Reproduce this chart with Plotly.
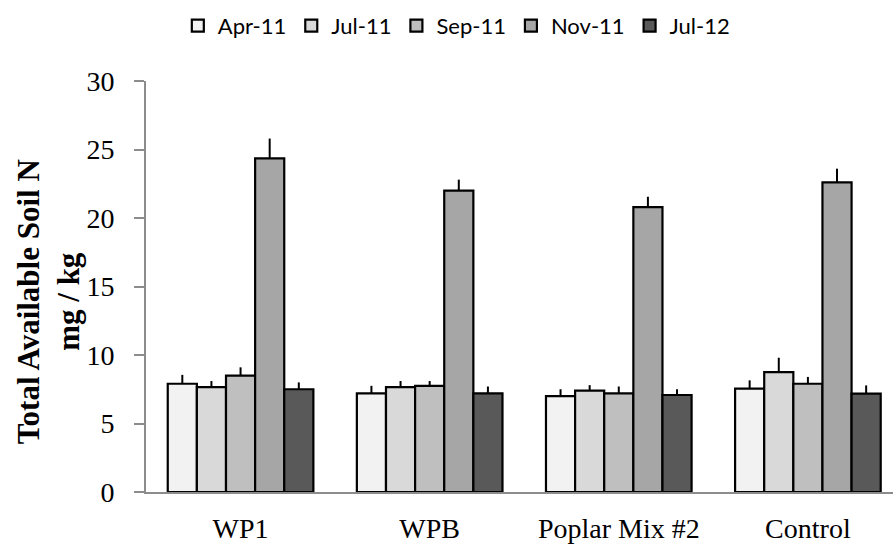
import plotly.graph_objects as go

categories = ["WP1", "WPB", "Poplar Mix #2", "Control"]
series_names = ["Apr-11", "Jul-11", "Sep-11", "Nov-11", "Jul-12"]

apr11 = [7.9, 7.2, 7.0, 7.55]
jul11 = [7.65, 7.65, 7.4, 8.75]
sep11 = [8.5, 7.75, 7.2, 7.9]
nov11 = [24.35, 22.0, 20.8, 22.6]
jul12 = [7.5, 7.2, 7.08, 7.18]

apr11_err = [0.65, 0.55, 0.5, 0.6]
jul11_err = [0.45, 0.45, 0.4, 1.05]
sep11_err = [0.6, 0.35, 0.5, 0.5]
nov11_err = [1.45, 0.8, 0.75, 1.0]
jul12_err = [0.5, 0.5, 0.42, 0.6]

values = [apr11, jul11, sep11, nov11, jul12]
errors = [apr11_err, jul11_err, sep11_err, nov11_err, jul12_err]
colors = ["#F2F2F2", "#D9D9D9", "#BFBFBF", "#A6A6A6", "#595959"]

y_ticks = [0, 5, 10, 15, 20, 25, 30]

fig = go.Figure()
for name, vals, errs, col in zip(series_names, values, errors, colors):
    fig.add_trace(go.Bar(
        name=name, x=categories, y=vals,
        marker=dict(color=col, line=dict(color="black", width=2.2)),
        error_y=dict(type="data", array=errs, arrayminus=[0] * len(errs),
                     symmetric=False, color="black", thickness=2, width=0),
    ))

fig.update_layout(
    width=893, height=548,
    margin=dict(l=146, r=0, t=81, b=56, autoexpand=False),
    paper_bgcolor="white", plot_bgcolor="white",
    barmode="group", bargap=0.23, bargroupgap=0,
    showlegend=True,
    legend=dict(orientation="h", xref="container", yref="container",
                x=0.511, y=0.953, xanchor="center", yanchor="middle",
                font=dict(family="Lato", size=22, color="black"),
                itemwidth=30, tracegroupgap=0),
    xaxis=dict(range=[-0.5, 3.45], showline=True, linecolor="#8C8C8C", linewidth=2,
               showgrid=False, ticks="", ticklabelstandoff=10,
               tickfont=dict(family="Liberation Serif", size=28, color="black"),
               automargin=False),
    yaxis=dict(range=[0, 30], tickvals=y_ticks, showline=True, linecolor="#8C8C8C",
               linewidth=2, showgrid=False, ticks="outside", ticklen=10, tickwidth=2,
               tickcolor="#8C8C8C", ticklabelstandoff=14,
               tickfont=dict(family="Liberation Serif", size=28, color="black"),
               zeroline=False, automargin=False),
    annotations=[dict(
        text="<b>Total Available Soil N</b><br><b>mg / kg</b>",
        xref="paper", yref="paper", x=-0.131, y=0.462,
        xanchor="center", yanchor="middle", textangle=-90, showarrow=False,
        font=dict(family="Liberation Serif", size=31, color="black"),
    )],
)

fig.write_html("out.html")
